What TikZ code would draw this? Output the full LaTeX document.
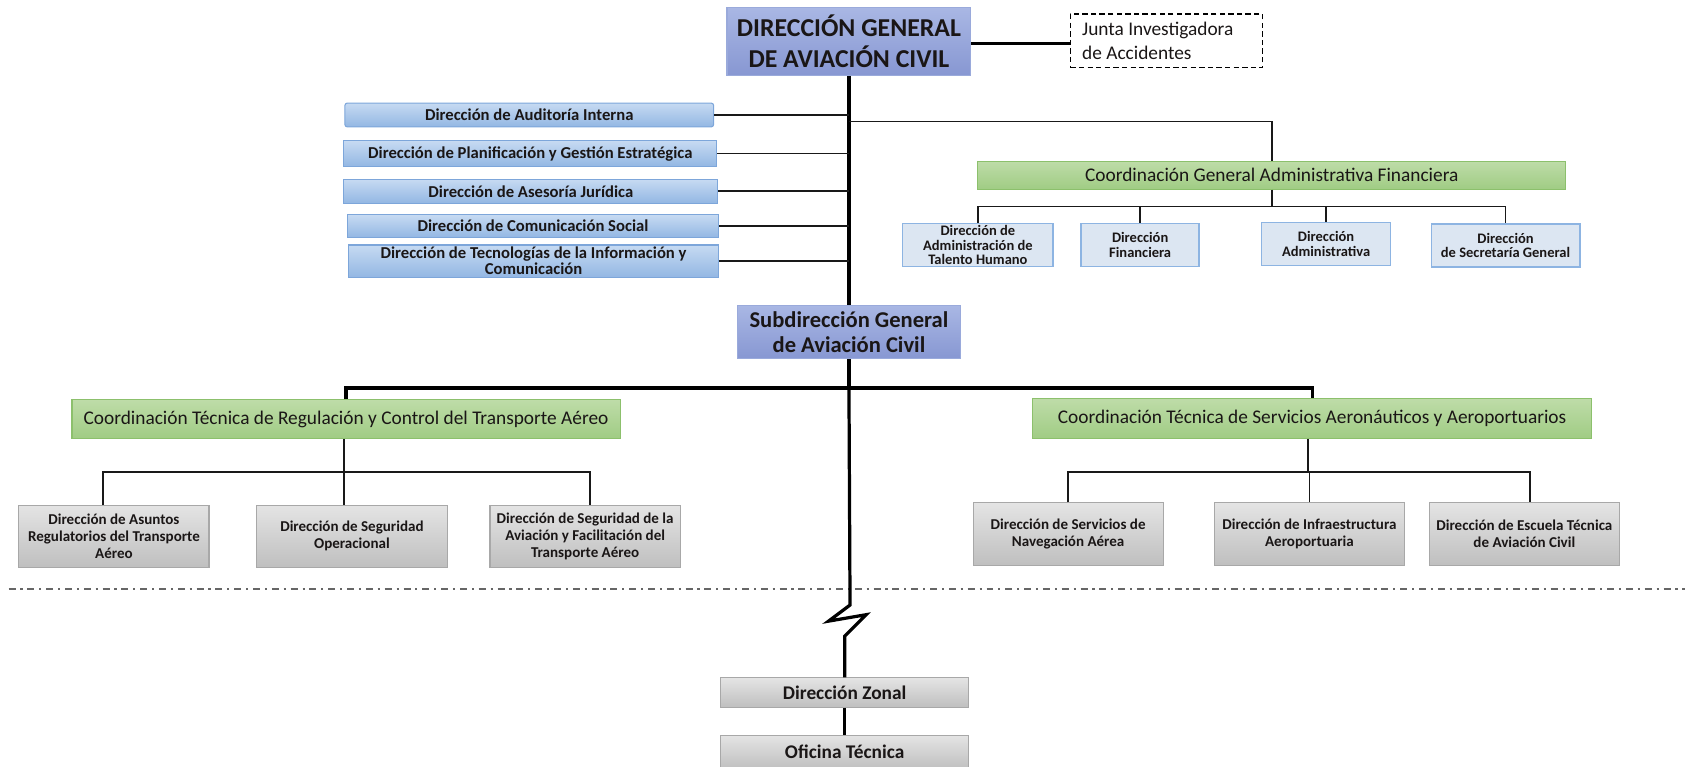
\documentclass[tikz,border=0pt]{standalone}
\usepackage{fontspec}
\setmainfont{Carlito}
\definecolor{dgTop}{HTML}{A9B7E4}
\definecolor{dgBot}{HTML}{8797D2}
\definecolor{dgLine}{HTML}{9AAADB}
\definecolor{blTop}{HTML}{C6DAF2}
\definecolor{blBot}{HTML}{93B7E3}
\definecolor{blLine}{HTML}{7DA6DA}
\definecolor{grTop}{HTML}{BEDCA8}
\definecolor{grBot}{HTML}{A0CC84}
\definecolor{grLine}{HTML}{8CC06C}
\definecolor{lbFill}{HTML}{DCE6F2}
\definecolor{lbLine}{HTML}{8DB4E2}
\definecolor{gyTop}{HTML}{E4E4E4}
\definecolor{gyBot}{HTML}{BFBFBF}
\definecolor{gyLine}{HTML}{A8A8A8}
\definecolor{txt}{HTML}{1A1616}
\begin{document}
\begin{tikzpicture}[x=1pt,y=-1pt,
  box/.style={rectangle, inner sep=0pt, align=center, text=txt},
  dgbox/.style={box, draw=dgLine, line width=1pt, top color=dgTop, bottom color=dgBot},
  bluebar/.style={box, draw=blLine, line width=1pt, top color=blTop, bottom color=blBot, rounded corners=2pt,
     font=\fontsize{15.5}{15}\selectfont\bfseries},
  greenbox/.style={box, draw=grLine, line width=1pt, top color=grTop, bottom color=grBot,
     font=\fontsize{18}{20}\selectfont},
  lbbox/.style={box, draw=lbLine, line width=1.5pt, fill=lbFill, minimum width=#1, minimum height=40,
     font=\fontsize{13.5}{13.5}\selectfont\bfseries},
  graybox/.style={box, draw=gyLine, line width=1pt, top color=gyTop, bottom color=gyBot,
     minimum width=177, minimum height=58, font=\fontsize{14}{16}\selectfont\bfseries},
  juntabox/.style={rectangle, inner sep=0pt, text width=157, align=flush left, draw=black, dash pattern=on 5pt off 3pt,
     line width=1.2pt, text=txt, font=\fontsize{18}{22}\selectfont},
  thk/.style={draw=black, line width=3pt},
  thn/.style={draw=black!90, line width=1.5pt},
  dashdotline/.style={draw=black!60, line width=1.4pt, dash pattern=on 6.5pt off 4.5pt on 2pt off 4.5pt}
]
\useasboundingbox (0,0) rectangle (1568,713);
\clip (0,0) rectangle (1568,713);

% top
\node[dgbox, minimum width=227, minimum height=63, font=\fontsize{24}{29}\selectfont\bfseries]
  (dg) at (790,38.5) {DIRECCIÓN GENERAL\\DE AVIACIÓN CIVIL};
\node[juntabox, minimum width=179, minimum height=50] (ju) at (1085.5,38) {Junta Investigadora\\de Accidentes};

% left staff boxes
\node[bluebar, minimum width=343, minimum height=22] (a1) at (492.5,107) {Dirección de Auditoría Interna};
\node[bluebar, rounded corners=0pt, minimum width=347, minimum height=24] (a2) at (493.5,143) {Dirección de Planificación y Gestión Estratégica};
\node[bluebar, rounded corners=0pt, minimum width=348, minimum height=22] (a3) at (494,178) {Dirección de Asesoría Jurídica};
\node[bluebar, rounded corners=0pt, minimum width=346, minimum height=21] (a4) at (496,210.5) {Dirección de Comunicación Social};
\node[bluebar, rounded corners=0pt, minimum width=345, minimum height=30] (a5) at (496.5,243) {Dirección de Tecnologías de la Información y\\Comunicación};

% administrative coordination
\node[greenbox, minimum width=547, minimum height=26] (cg) at (1183.5,163) {Coordinación General Administrativa Financiera};
\node[lbbox=140] (b1) at (910,228) {Dirección de\\Administración de\\Talento Humano};
\node[lbbox=110] (b2) at (1061,228) {Dirección\\Financiera};
\node[lbbox=120] (b3) at (1234,227) {Dirección\\Administrativa};
\node[lbbox=138] (b4) at (1401,228.5) {Dirección\\de Secretaría General};

% subdirection
\node[dgbox, minimum width=207, minimum height=50, font=\fontsize{21}{24}\selectfont\bfseries]
  (sub) at (790,309) {Subdirección General\\de Aviación Civil};

% technical coordinations
\node[greenbox, minimum width=510, minimum height=36] (gl) at (322,390) {Coordinación Técnica de Regulación y Control del Transporte Aéreo};
\node[greenbox, minimum width=520, minimum height=37] (gr) at (1221,389.5) {Coordinación Técnica de Servicios Aeronáuticos y Aeroportuarios};

\node[graybox] (l1) at (106,499) {Dirección de Asuntos\\Regulatorios del Transporte\\Aéreo};
\node[graybox] (l2) at (327.5,499) {Dirección de Seguridad\\Operacional};
\node[graybox] (l3) at (544.5,499) {Dirección de Seguridad de la\\Aviación y Facilitación del\\Transporte Aéreo};
\node[graybox] (r1) at (994,497) {Dirección de Servicios de\\Navegación Aérea};
\node[graybox] (r2) at (1218.5,497) {Dirección de Infraestructura\\Aeroportuaria};
\node[graybox] (r3) at (1418.5,497) {Dirección de Escuela Técnica\\de Aviación Civil};

% zonal
\node[graybox, minimum width=231, minimum height=27.5, font=\fontsize{18}{20}\selectfont\bfseries] (dz) at (786,644.5) {Dirección Zonal};
\node[graybox, minimum width=231, minimum height=32, font=\fontsize{18}{20}\selectfont\bfseries] (ot) at (786,700) {Oficina Técnica};

% coordinates
\coordinate (jr) at (790,113);
\coordinate (bus1) at (0,192);
\coordinate (bus2) at (0,361);
\coordinate (bus3) at (0,439);
\coordinate (z1) at (791,563);
\coordinate (z2) at (771,578);
\coordinate (z3) at (806,572);
\coordinate (z4) at (786,592);
\coordinate (dl) at (8,548);
\coordinate (dr) at (1568,548);

% connectors
\draw[thk] ([yshift=-2pt]dg.east) -- ([yshift=-2pt]dg.east -| ju.west);
\draw[thk] (dg.south) -- (sub.north);
\foreach \n in {a1,a2,a3,a4,a5} \draw[thn] (\n.east) -- (\n.east -| dg.south);
\draw[thn] (jr) -| (cg.north);
\draw[thn] (cg.south) -- (cg.south |- bus1);
\draw[thn] (b1.north) -- (b1.north |- bus1) -- (b4.north |- bus1) -- (b4.north);
\draw[thn] (b2.north) -- (b2.north |- bus1);
\draw[thn] (b3.north) -- (b3.north |- bus1);

\draw[thk] (sub.south) -- (sub.south |- bus2);
\draw[thk] (gl.north) -- (gl.north |- bus2) -- (gr.north |- bus2) -- (gr.north);

\draw[thn] ([xshift=-2pt]gl.south) -- ([xshift=-2pt]gl.south |- bus3);
\draw[thn] ([xshift=-10pt]l1.north) -- ([xshift=-10pt]l1.north |- bus3) -- ([xshift=4.5pt]l3.north |- bus3) -- ([xshift=4.5pt]l3.north);
\draw[thn] ([xshift=-7.5pt]l2.north) -- ([xshift=-7.5pt]l2.north |- bus3);

\draw[thn] ([xshift=-4pt]gr.south) -- ([xshift=-4pt]gr.south |- bus3);
\draw[thn] (r1.north) -- (r1.north |- bus3) -- ([xshift=5.5pt]r3.north |- bus3) -- ([xshift=5.5pt]r3.north);
\draw[thn] (r2.north) -- (r2.north |- bus3);

\draw[dashdotline] (dl) -- (dr);
\draw[thk, line join=miter] (sub.south |- bus2) -- (z1) -- (z2) -- (z3) -- (z4) -- (z4 |- dz.north);
\draw[thk] (dz.south) -- (ot.north);
\end{tikzpicture}
\end{document}
